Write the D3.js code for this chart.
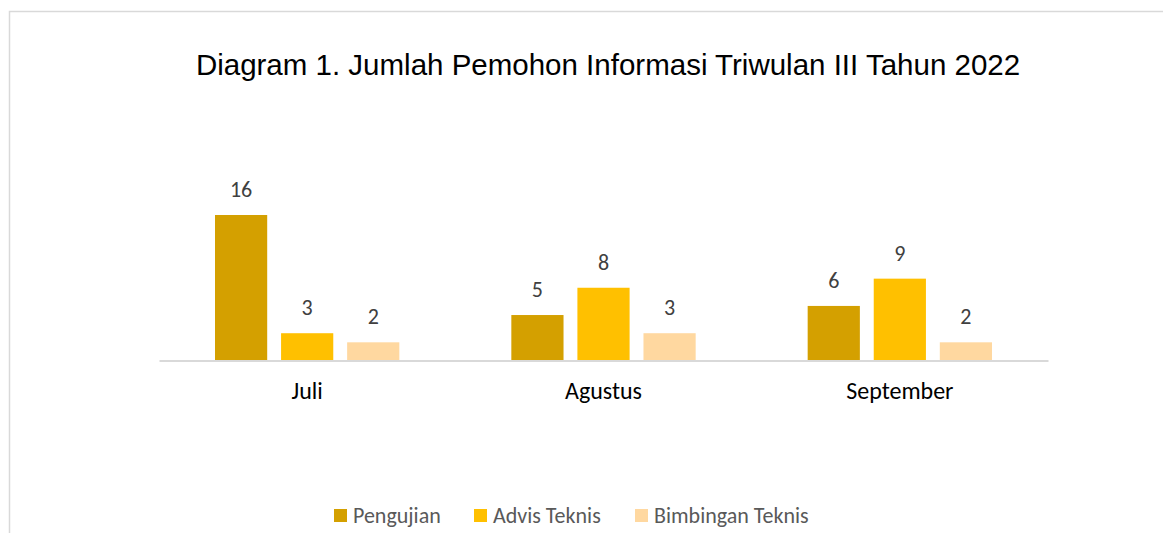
<!DOCTYPE html>
<html>
<head>
<meta charset="utf-8">
<script src="https://cdn.jsdelivr.net/npm/d3@7"></script>
<style>
  html, body { margin: 0; padding: 0; background: #fff; }
  svg { display: block; }
</style>
</head>
<body>
<svg id="chart" width="1163" height="533"></svg>
<script>
// data
var months = ["Juli", "Agustus", "September"];
var seriesNames = ["Pengujian", "Advis Teknis", "Bimbingan Teknis"];
var pengujian = [16, 5, 6];
var advisTeknis = [3, 8, 9];
var bimbinganTeknis = [2, 3, 2];
var seriesColors = ["#d4a000", "#ffc000", "#ffd8a0"];
var title = "Diagram 1. Jumlah Pemohon Informasi Triwulan III Tahun 2022";

var allSeries = [pengujian, advisTeknis, bimbinganTeknis];

var svg = d3.select("#chart");
var labelFont = "Carlito, 'Open Sans', sans-serif";

// outer frame (only top & left visible in the crop)
svg.append("path")
  .attr("d", "M9.5,600 L9.5,11.5 L1200,11.5")
  .attr("fill", "none")
  .attr("stroke", "#d9d9d9")
  .attr("stroke-width", 1.5);

// title
svg.append("text")
  .attr("x", 608)
  .attr("y", 75)
  .attr("text-anchor", "middle")
  .attr("font-family", "'Liberation Sans', Arial, sans-serif")
  .attr("font-size", 29.5)
  .attr("fill", "#000")
  .text(title);

var left = 159, right = 1048, base = 360.5;

var x0 = d3.scaleBand().domain(months).range([left, right]).paddingInner(0).paddingOuter(0);
var x1 = d3.scaleBand().domain(seriesNames).range([56, x0.bandwidth() - 56]).paddingInner(0.21);
var y = d3.scaleLinear().domain([0, 16]).range([base, 215]);

var groups = svg.selectAll("g.month")
  .data(months)
  .enter().append("g")
  .attr("class", "month")
  .attr("transform", function(d) { return "translate(" + x0(d) + ",0)"; });

function rows(d, i) {
  return seriesNames.map(function(s, j) { return {s: s, j: j, v: allSeries[j][i]}; });
}

groups.selectAll("rect")
  .data(rows)
  .enter().append("rect")
  .attr("x", function(d) { return x1(d.s); })
  .attr("width", x1.bandwidth())
  .attr("y", function(d) { return y(d.v); })
  .attr("height", function(d) { return base - y(d.v); })
  .attr("fill", function(d) { return seriesColors[d.j]; });

groups.selectAll("text.val")
  .data(rows)
  .enter().append("text")
  .attr("class", "val")
  .attr("x", function(d) { return x1(d.s) + x1.bandwidth() / 2; })
  .attr("y", function(d) { return y(d.v) - 18; })
  .attr("text-anchor", "middle")
  .attr("font-family", labelFont)
  .attr("font-size", 22)
  .attr("fill", "#404040")
  .text(function(d) { return d.v; });

// axis
var xAxis = d3.axisBottom(x0).tickSize(0).tickPadding(21);
var axisG = svg.append("g")
  .attr("transform", "translate(0," + base + ")")
  .call(xAxis);
axisG.select(".domain").attr("stroke", "#d9d9d9").attr("stroke-width", 2);
axisG.selectAll("text")
  .attr("font-family", labelFont)
  .attr("font-size", 24)
  .attr("fill", "#000");

// legend
var legendX = [334, 474, 635];
var legend = svg.selectAll("g.legend")
  .data(seriesNames)
  .enter().append("g")
  .attr("class", "legend")
  .attr("transform", function(d, i) { return "translate(" + legendX[i] + ",509)"; });
legend.append("rect")
  .attr("width", 13).attr("height", 13)
  .attr("fill", function(d, i) { return seriesColors[i]; });
legend.append("text")
  .attr("x", 19)
  .attr("y", 14)
  .attr("font-family", labelFont)
  .attr("font-size", 22)
  .attr("fill", "#595959")
  .text(function(d) { return d; });
</script>
</body>
</html>
